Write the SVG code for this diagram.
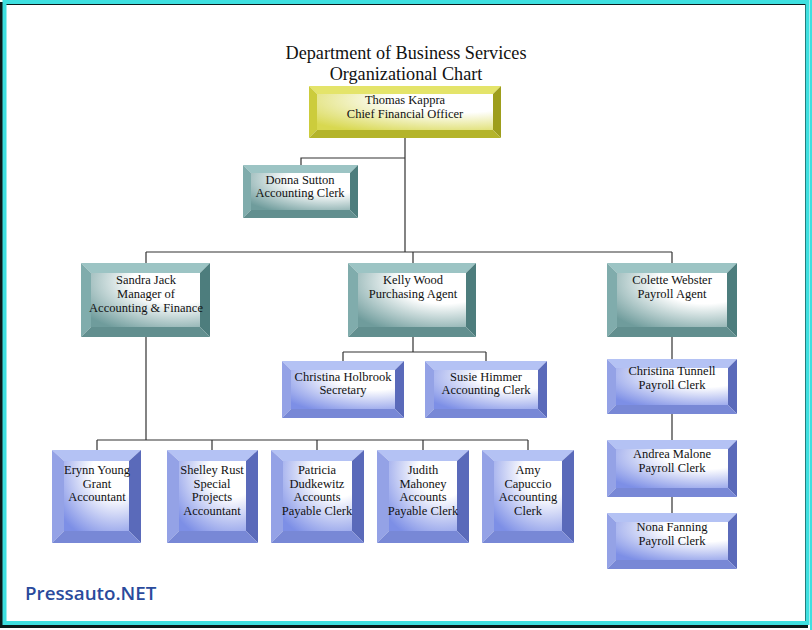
<svg xmlns="http://www.w3.org/2000/svg" width="812" height="630" viewBox="0 0 812 630">
<defs>
<radialGradient id="gy" cx="0.8" cy="0.15" r="1.05"><stop offset="0.35" stop-color="#ffffff"/><stop offset="1" stop-color="#d8d850"/></radialGradient>
<radialGradient id="gt" cx="0.8" cy="0.15" r="1.05"><stop offset="0.4" stop-color="#ffffff"/><stop offset="1" stop-color="#6f9c9c"/></radialGradient>
<radialGradient id="gb" cx="0.8" cy="0.15" r="1.05"><stop offset="0.35" stop-color="#ffffff"/><stop offset="1" stop-color="#7d8fe6"/></radialGradient>
</defs>
<style>
.t{font-family:"Liberation Serif","Times New Roman",serif;font-size:12.5px;fill:#111;text-anchor:middle}
.title{font-family:"Liberation Serif","Times New Roman",serif;font-size:18.2px;fill:#111;text-anchor:middle}
.c{stroke:#333;stroke-width:1.2;fill:none}
.yT{fill:#e4e46a}.yL{fill:#cccc3c}.yR{fill:#9e9e1c}.yB{fill:#b4b42a}
.tT{fill:#9cc4c4}.tL{fill:#80acac}.tR{fill:#4d7d7d}.tB{fill:#628f8f}
.bT{fill:#b4c2f4}.bL{fill:#94a2e6}.bR{fill:#5a6aba}.bB{fill:#7888d6}
.iy{fill:url(#gy)}.it{fill:url(#gt)}.ib{fill:url(#gb)}
</style>
<rect x="0" y="0" width="812" height="630" fill="#ffffff"/>
<rect x="1.5" y="3.5" width="805" height="623" fill="none" stroke="#0a1a1a" stroke-width="3"/>
<rect x="4.5" y="2" width="803" height="621" fill="none" stroke="#3ee0e0" stroke-width="4"/>
<rect x="810" y="0" width="2" height="630" fill="#3ee0e0"/>

<text class="title" x="406" y="59">Department of Business Services</text>
<text class="title" x="406" y="80">Organizational Chart</text>

<g id="connectors">
<path class="c" d="M405,138 V252 M405,158 H301 V165 M146,252 H672 M146,252 V263 M413,252 V263 M672,252 V263"/>
<path class="c" d="M413,337 V352 M343,352 H486 M343,352 V361 M486,352 V361"/>
<path class="c" d="M146,337 V440 M97,440 H528 M97,440 V450 M212,440 V450 M317,440 V450 M423,440 V450 M528,440 V450"/>
<path class="c" d="M672,337 V359 M672,414 V440 M672,497 V513"/>
</g>

<g id="cfo">
<polygon class="yT" points="309,86 501,86 493,94 317,94"/>
<polygon class="yL" points="309,86 317,94 317,130 309,138"/>
<polygon class="yR" points="501,86 501,138 493,130 493,94"/>
<polygon class="yB" points="309,138 501,138 493,130 317,130"/>
<rect class="iy" x="317" y="94" width="176" height="36"/>
<text class="t" x="405" y="104">Thomas Kappra</text>
<text class="t" x="405" y="118">Chief Financial Officer</text>
</g>

<g id="donna">
<polygon class="tT" points="243,165 358,165 350,173 251,173"/>
<polygon class="tL" points="243,165 251,173 251,210 243,218"/>
<polygon class="tR" points="358,165 358,218 350,210 350,173"/>
<polygon class="tB" points="243,218 358,218 350,210 251,210"/>
<rect class="it" x="251" y="173" width="99" height="37"/>
<text class="t" x="300" y="184">Donna Sutton</text>
<text class="t" x="300" y="197">Accounting Clerk</text>
</g>

<g id="sandra">
<polygon class="tT" points="81,263 210,263 200,273 91,273"/>
<polygon class="tL" points="81,263 91,273 91,327 81,337"/>
<polygon class="tR" points="210,263 210,337 200,327 200,273"/>
<polygon class="tB" points="81,337 210,337 200,327 91,327"/>
<rect class="it" x="91" y="273" width="109" height="54"/>
<text class="t" x="146" y="284">Sandra Jack</text>
<text class="t" x="146" y="298">Manager of</text>
<text class="t" x="146" y="312">Accounting &amp; Finance</text>
</g>

<g id="kelly">
<polygon class="tT" points="348,263 476,263 466,273 358,273"/>
<polygon class="tL" points="348,263 358,273 358,327 348,337"/>
<polygon class="tR" points="476,263 476,337 466,327 466,273"/>
<polygon class="tB" points="348,337 476,337 466,327 358,327"/>
<rect class="it" x="358" y="273" width="108" height="54"/>
<text class="t" x="413" y="284">Kelly Wood</text>
<text class="t" x="413" y="298">Purchasing Agent</text>
</g>

<g id="colette">
<polygon class="tT" points="607,263 737,263 727,273 617,273"/>
<polygon class="tL" points="607,263 617,273 617,327 607,337"/>
<polygon class="tR" points="737,263 737,337 727,327 727,273"/>
<polygon class="tB" points="607,337 737,337 727,327 617,327"/>
<rect class="it" x="617" y="273" width="110" height="54"/>
<text class="t" x="672" y="284">Colette Webster</text>
<text class="t" x="672" y="298">Payroll Agent</text>
</g>

<g id="christina-holbrook">
<polygon class="bT" points="282,361 404,361 395,370 291,370"/>
<polygon class="bL" points="282,361 291,370 291,409 282,418"/>
<polygon class="bR" points="404,361 404,418 395,409 395,370"/>
<polygon class="bB" points="282,418 404,418 395,409 291,409"/>
<rect class="ib" x="291" y="370" width="104" height="39"/>
<text class="t" x="343" y="381">Christina Holbrook</text>
<text class="t" x="343" y="394">Secretary</text>
</g>

<g id="susie">
<polygon class="bT" points="425,361 547,361 538,370 434,370"/>
<polygon class="bL" points="425,361 434,370 434,409 425,418"/>
<polygon class="bR" points="547,361 547,418 538,409 538,370"/>
<polygon class="bB" points="425,418 547,418 538,409 434,409"/>
<rect class="ib" x="434" y="370" width="104" height="39"/>
<text class="t" x="486" y="381">Susie Himmer</text>
<text class="t" x="486" y="394">Accounting Clerk</text>
</g>

<g id="christina-tunnell">
<polygon class="bT" points="607,359 737,359 728,368 616,368"/>
<polygon class="bL" points="607,359 616,368 616,405 607,414"/>
<polygon class="bR" points="737,359 737,414 728,405 728,368"/>
<polygon class="bB" points="607,414 737,414 728,405 616,405"/>
<rect class="ib" x="616" y="368" width="112" height="37"/>
<text class="t" x="672" y="375">Christina Tunnell</text>
<text class="t" x="672" y="389">Payroll Clerk</text>
</g>

<g id="andrea">
<polygon class="bT" points="607,440 737,440 728,449 616,449"/>
<polygon class="bL" points="607,440 616,449 616,488 607,497"/>
<polygon class="bR" points="737,440 737,497 728,488 728,449"/>
<polygon class="bB" points="607,497 737,497 728,488 616,488"/>
<rect class="ib" x="616" y="449" width="112" height="39"/>
<text class="t" x="672" y="458">Andrea Malone</text>
<text class="t" x="672" y="472">Payroll Clerk</text>
</g>

<g id="nona">
<polygon class="bT" points="607,513 737,513 728,522 616,522"/>
<polygon class="bL" points="607,513 616,522 616,560 607,569"/>
<polygon class="bR" points="737,513 737,569 728,560 728,522"/>
<polygon class="bB" points="607,569 737,569 728,560 616,560"/>
<rect class="ib" x="616" y="522" width="112" height="38"/>
<text class="t" x="672" y="531">Nona Fanning</text>
<text class="t" x="672" y="545">Payroll Clerk</text>
</g>

<g id="erynn">
<polygon class="bT" points="52,450 141,450 129,461 64,461"/>
<polygon class="bL" points="52,450 64,461 64,531 52,543"/>
<polygon class="bR" points="141,450 141,543 129,531 129,461"/>
<polygon class="bB" points="52,543 141,543 129,531 64,531"/>
<rect class="ib" x="64" y="461" width="65" height="70"/>
<text class="t" x="97" y="474">Erynn Young</text>
<text class="t" x="97" y="488">Grant</text>
<text class="t" x="97" y="501">Accountant</text>
</g>

<g id="shelley">
<polygon class="bT" points="167,450 258,450 246,461 179,461"/>
<polygon class="bL" points="167,450 179,461 179,531 167,543"/>
<polygon class="bR" points="258,450 258,543 246,531 246,461"/>
<polygon class="bB" points="167,543 258,543 246,531 179,531"/>
<rect class="ib" x="179" y="461" width="67" height="70"/>
<text class="t" x="212" y="474">Shelley Rust</text>
<text class="t" x="212" y="488">Special</text>
<text class="t" x="212" y="501">Projects</text>
<text class="t" x="212" y="515">Accountant</text>
</g>

<g id="patricia">
<polygon class="bT" points="271,450 364,450 352,461 283,461"/>
<polygon class="bL" points="271,450 283,461 283,531 271,543"/>
<polygon class="bR" points="364,450 364,543 352,531 352,461"/>
<polygon class="bB" points="271,543 364,543 352,531 283,531"/>
<rect class="ib" x="283" y="461" width="69" height="70"/>
<text class="t" x="317" y="474">Patricia</text>
<text class="t" x="317" y="488">Dudkewitz</text>
<text class="t" x="317" y="501">Accounts</text>
<text class="t" x="317" y="515">Payable Clerk</text>
</g>

<g id="judith">
<polygon class="bT" points="377,450 469,450 457,461 389,461"/>
<polygon class="bL" points="377,450 389,461 389,531 377,543"/>
<polygon class="bR" points="469,450 469,543 457,531 457,461"/>
<polygon class="bB" points="377,543 469,543 457,531 389,531"/>
<rect class="ib" x="389" y="461" width="68" height="70"/>
<text class="t" x="423" y="474">Judith</text>
<text class="t" x="423" y="488">Mahoney</text>
<text class="t" x="423" y="501">Accounts</text>
<text class="t" x="423" y="515">Payable Clerk</text>
</g>

<g id="amy">
<polygon class="bT" points="482,450 574,450 562,461 494,461"/>
<polygon class="bL" points="482,450 494,461 494,531 482,543"/>
<polygon class="bR" points="574,450 574,543 562,531 562,461"/>
<polygon class="bB" points="482,543 574,543 562,531 494,531"/>
<rect class="ib" x="494" y="461" width="68" height="70"/>
<text class="t" x="528" y="474">Amy</text>
<text class="t" x="528" y="488">Capuccio</text>
<text class="t" x="528" y="501">Accounting</text>
<text class="t" x="528" y="515">Clerk</text>
</g>

<text x="25" y="600" font-family="'Open Sans','Noto Sans',sans-serif" font-size="18.8" font-weight="600" fill="#2a4a9c">Pressauto.NET</text>
</svg>
